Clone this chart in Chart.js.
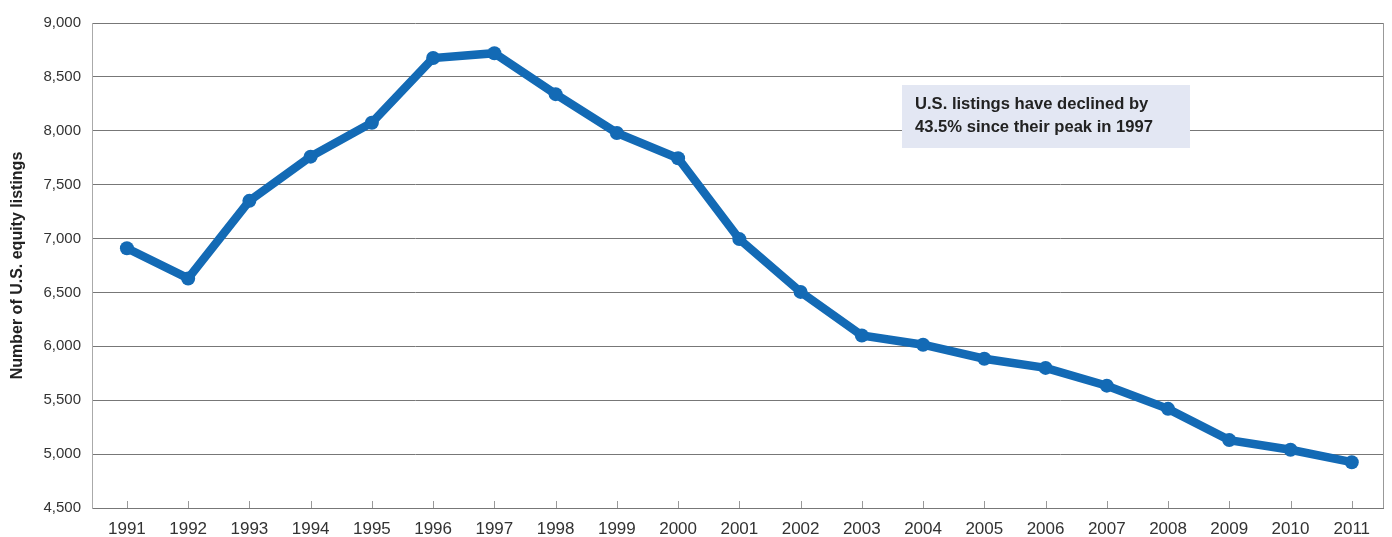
<!DOCTYPE html>
<html><head><meta charset="utf-8">
<script src="https://cdn.jsdelivr.net/npm/chart.js@4/dist/chart.umd.min.js"></script>
<style>html,body{margin:0;padding:0;background:#fff}#wrap{width:1392px;height:537px}</style>
</head><body><div id="wrap"><canvas id="c" width="1392" height="537"></canvas></div>
<script>
const years = [1991,1992,1993,1994,1995,1996,1997,1998,1999,2000,2001,2002,2003,2004,2005,2006,2007,2008,2009,2010,2011];
const listings = [6910,6630,7350,7760,8075,8675,8720,8340,7980,7745,6995,6505,6100,6015,5885,5800,5635,5420,5130,5040,4925];
const yTicks = [4500,5000,5500,6000,6500,7000,7500,8000,8500,9000];
const noteLines = ["U.S. listings have declined by","43.5% since their peak in 1997"];

const extras = {
  id:'extras',
  afterDraw(chart){
    const {ctx, chartArea:a} = chart;
    const xs = chart.scales.x;
    ctx.save();
    ctx.strokeStyle='#999'; ctx.lineWidth=1;
    ctx.beginPath(); ctx.moveTo(a.right+0.5,a.top); ctx.lineTo(a.right+0.5,a.bottom); ctx.stroke();
    ctx.beginPath();
    years.forEach(y=>{ const px=Math.round(xs.getPixelForValue(y))+0.5; ctx.moveTo(px,a.bottom-7); ctx.lineTo(px,a.bottom); });
    ctx.stroke();
    const bx = a.left + 810, by = a.top + 62, bw = 288, bh = 63;
    ctx.fillStyle='#e3e7f3'; ctx.fillRect(bx,by,bw,bh);
    ctx.fillStyle='#222'; ctx.font='bold 16.6px "Liberation Sans", Arial, sans-serif';
    ctx.textBaseline='middle'; ctx.textAlign='left';
    ctx.fillText(noteLines[0], bx+13, by+19);
    ctx.fillText(noteLines[1], bx+13, by+42);
    ctx.restore();
  }
};

new Chart(document.getElementById('c'), {
  type:'line',
  data:{ datasets:[{
    data: years.map((y,i)=>({x:y,y:listings[i]})),
    borderColor:'#136ab5', backgroundColor:'#136ab5',
    borderWidth:8.5, pointRadius:7, pointHoverRadius:7,
    pointBackgroundColor:'#136ab5', pointBorderWidth:0, tension:0
  }]},
  options:{
    responsive:false, animation:false,
    layout:{padding:{top:23,right:9,left:0,bottom:0}},
    plugins:{legend:{display:false}, tooltip:{enabled:false}},
    scales:{
      x:{type:'linear', min:1990.43, max:2011.51,
        afterBuildTicks(s){ s.ticks = years.map(v=>({value:v})); },
        afterFit(s){ s.height = 29; },
        grid:{display:false, drawTicks:false},
        border:{display:true,color:'#777'},
        ticks:{color:'#333', font:{family:'"Liberation Sans", Arial, sans-serif', size:17}, padding:11, maxRotation:0, autoSkip:false,
          callback:(v)=>String(v)}
      },
      y:{min:4500,max:9000,
        afterBuildTicks(s){ s.ticks = yTicks.map(v=>({value:v})); },
        afterFit(s){ s.width = 92; },
        grid:{color:'#777', lineWidth:1, drawTicks:false},
        border:{display:true,color:'#aaa'},
        ticks:{color:'#333', font:{family:'"Liberation Sans", Arial, sans-serif', size:15}, padding:11,
          callback:(v)=>v.toLocaleString('en-US')},
        title:{display:true, text:'Number of U.S. equity listings', color:'#222',
          font:{family:'"Liberation Sans", Arial, sans-serif', size:16, weight:'bold'}, padding:{top:8,bottom:0}}
      }
    }
  },
  plugins:[extras]
});
</script></body></html>
